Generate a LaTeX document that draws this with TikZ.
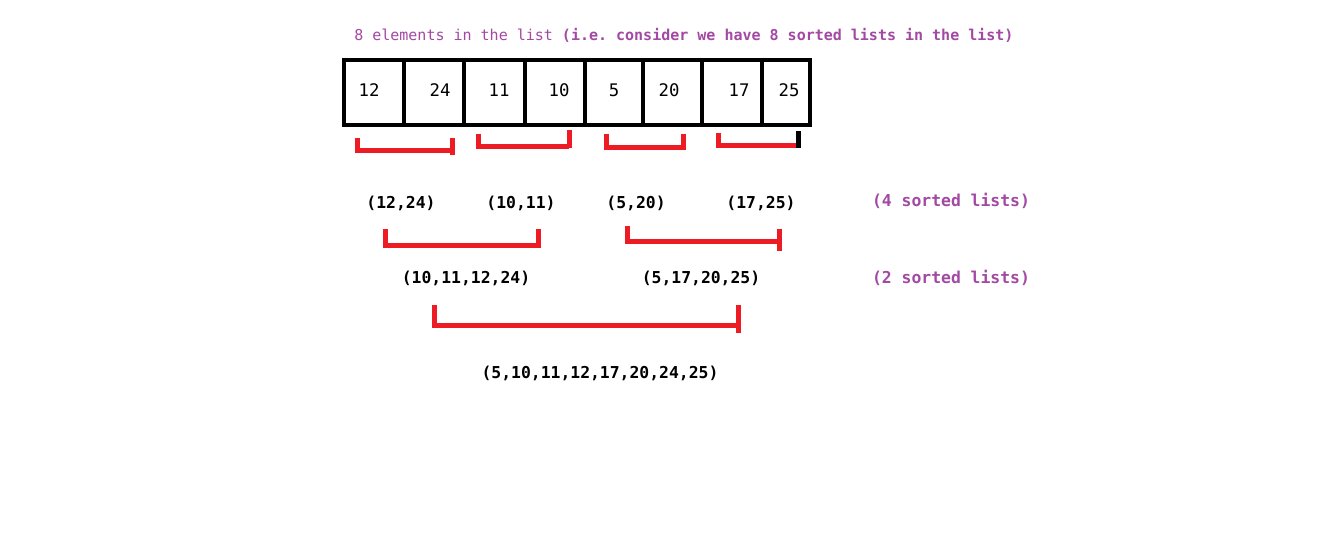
\documentclass[tikz,border=0pt]{standalone}
\usepackage{fontspec}
\setmonofont{DejaVu Sans Mono}
\usetikzlibrary{positioning}

\definecolor{lila}{HTML}{A349A4}
\definecolor{rouge}{HTML}{ED1C24}

\tikzset{
    cell/.style={draw=black,line width=3pt,inner sep=0pt,outer sep=0pt,minimum height=48.75pt},
    num/.style={font=\ttfamily\fontsize{13}{15}\selectfont,inner sep=0pt},
    liste/.style={font=\ttfamily\bfseries\fontsize{12.3}{14}\selectfont,inner sep=0pt},
    note/.style={liste,text=lila},
    brk/.style={draw=rouge,line width=3.75pt}
}

\newcommand{\paire}[6]{
    % gauche, haut gauche, base, droite, haut droite, bas droite
    \draw[brk] (#1,#2) -- (#1,#3) -- (#4,#3);
    \draw[brk] (#4,#5) -- (#4,#6);
}

\begin{document}
\begin{tikzpicture}[x=0.75pt,y=-0.75pt]
    \useasboundingbox[fill=white] (0,0) rectangle (1321,548);

    % titre
    \node[anchor=west,inner sep=0pt,text=lila,font=\ttfamily\fontsize{11.25}{13}\selectfont] (titre) at (354,35)
        {8 elements in the list {\bfseries(i.e. consider we have 8 sorted lists in the list)}};

    % cases
    \foreach \l/\r/\v/\p [count=\i] in {344/404/12/369,404/464/24/440,464/525/11/499,525/585/10/559,
                                        585/643/5/614,643/702/20/669,702/762/17/739,762/810/25/789}
    {
        \node[cell,minimum width={(\r-\l)*0.75pt}] (c\i) at ({(\l+\r)/2},92.5) {};
        \node[num] (n\i) at (\p,90) {\v};
    }

    % paires
    \paire{357}{138}{151}{452}{138}{155}
    \paire{478}{134}{147}{569}{130}{148}
    \paire{606}{134}{148}{683}{134}{150}
    \draw[brk] (718,133) -- (718,146) -- (798,146);
    \draw[black,line width=3.75pt] (798,131) -- (798,148);

    % 4 listes
    \node[liste] (l1) at (401,203) {(12,24)};
    \node[liste] (l2) at (521,203) {(10,11)};
    \node[liste] (l3) at (636,203) {(5,20)};
    \node[liste] (l4) at (761,203) {(17,25)};
    \node[note] (q4) at (951,201) {(4 sorted lists)};

    \paire{385}{229}{246}{538}{229}{248}
    \paire{627}{226}{242}{779}{229}{251}

    % 2 listes
    \node[liste] (m1) at (466,278) {(10,11,12,24)};
    \node[liste] (m2) at (701,278) {(5,17,20,25)};
    \node[note] (q2) at (951,278) {(2 sorted lists)};

    \paire{434}{305}{326}{738}{305}{333}

    % resultat
    \node[liste] (fin) at (600,373) {(5,10,11,12,17,20,24,25)};
\end{tikzpicture}
\end{document}
